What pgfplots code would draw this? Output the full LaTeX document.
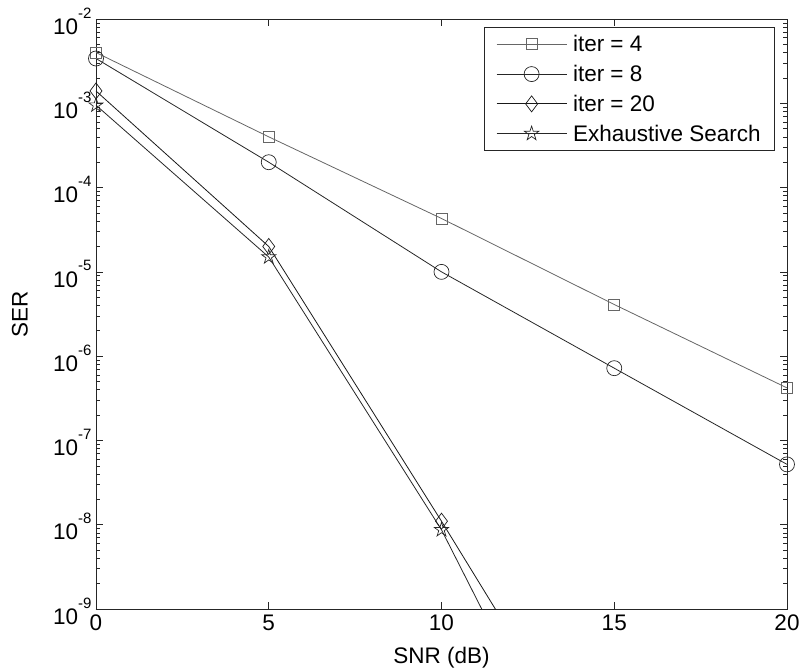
\documentclass[border=0pt]{standalone}
\usepackage{pgfplots}
\pgfplotsset{compat=1.18}
\usepackage{fontspec}
\setmainfont{Liberation Sans}

% decade label: "10" with a raised exponent in the text font
\newcommand{\dec}[1]{10\raisebox{0.72em}{\fontsize{15bp}{15bp}\selectfont #1}}
\newcommand{\lblfont}{\fontsize{22.5bp}{26bp}\selectfont}

% five-pointed star outline
\pgfdeclareplotmark{pentagram}{%
  \pgfpathmoveto{\pgfpointpolar{90}{\pgfplotmarksize}}%
  \pgfpathlineto{\pgfpointpolar{126}{0.382\pgfplotmarksize}}%
  \pgfpathlineto{\pgfpointpolar{162}{\pgfplotmarksize}}%
  \pgfpathlineto{\pgfpointpolar{198}{0.382\pgfplotmarksize}}%
  \pgfpathlineto{\pgfpointpolar{234}{\pgfplotmarksize}}%
  \pgfpathlineto{\pgfpointpolar{270}{0.382\pgfplotmarksize}}%
  \pgfpathlineto{\pgfpointpolar{306}{\pgfplotmarksize}}%
  \pgfpathlineto{\pgfpointpolar{342}{0.382\pgfplotmarksize}}%
  \pgfpathlineto{\pgfpointpolar{18}{\pgfplotmarksize}}%
  \pgfpathlineto{\pgfpointpolar{54}{0.382\pgfplotmarksize}}%
  \pgfpathclose
  \pgfusepathqstroke}

\begin{document}
\begin{tikzpicture}
\begin{axis}[
  scale only axis,
  width=691bp, height=590bp,
  xmin=0, xmax=20,
  ymode=log, ymin=1e-9, ymax=1e-2,
  xtick={0,5,10,15,20},
  ytick={1e-9,1e-8,1e-7,1e-6,1e-5,1e-4,1e-3,1e-2},
  yticklabels={\dec{-9},\dec{-8},\dec{-7},\dec{-6},\dec{-5},\dec{-4},\dec{-3},\dec{-2}},
  tick align=inside,
  major tick length=7bp, minor tick length=4bp,
  axis line style={black!85, line width=0.8bp},
  every tick/.style={black!85, line width=0.6bp},
  font=\lblfont,
  tick label style={font=\lblfont},
  label style={font=\lblfont},
  /pgf/number format/assume math mode=true,
  xticklabel style={yshift=-2bp},
  yticklabel style={xshift=-1bp, yshift=-2bp},
  xlabel={SNR (dB)}, ylabel={SER},
  xlabel style={at={(axis description cs:0.5,-0.083)}, anchor=center},
  ylabel style={at={(axis description cs:-0.11,0.5)}, anchor=center},
  legend cell align=left,
  legend style={at={(1,1)}, anchor=north east, xshift=-12bp, yshift=-8bp,
    draw=black!85, line width=0.8bp, inner xsep=12bp, inner ysep=6bp,
    row sep=8bp, column sep=4bp, font=\lblfont},
  legend image code/.code={%
    \draw[#1, mark repeat=2, mark phase=2]
      plot coordinates {(0bp,0bp) (35bp,0bp) (70bp,0bp)};},
]
\addplot[black!60, line width=0.8bp, mark=square, mark size=5.5bp,
  mark options={solid, line width=0.7bp}]
  coordinates {(0,4.0e-3) (5,4.0e-4) (10,4.3e-5) (15,4.1e-6) (20,4.2e-7)};
\addlegendentry{iter = 4}
\addplot[black!85, line width=0.8bp, mark=o, mark size=7.5bp,
  mark options={solid, line width=0.7bp}]
  coordinates {(0,3.4e-3) (5,2.0e-4) (10,1.0e-5) (15,7.2e-7) (20,5.2e-8)};
\addlegendentry{iter = 8}
\addplot[black!90, line width=0.8bp, mark=diamond, mark size=8bp,
  mark options={solid, line width=0.7bp}]
  coordinates {(0,1.4e-3) (5,2.0e-5) (10,1.1e-8) (15,5.0e-12)};
\addlegendentry{iter = 20}
\addplot[black!85, line width=0.8bp, mark=pentagram, mark size=7.5bp,
  mark options={solid, line width=0.7bp}]
  coordinates {(0,9.5e-4) (5,1.5e-5) (10,8.7e-9) (15,8.0e-13)};
\addlegendentry{Exhaustive Search}
\end{axis}
\pgfresetboundingbox
\path ([shift={(-96bp,-61bp)}]current axis.south west)
  rectangle ([shift={(17bp,19bp)}]current axis.north east);
\end{tikzpicture}
\end{document}
